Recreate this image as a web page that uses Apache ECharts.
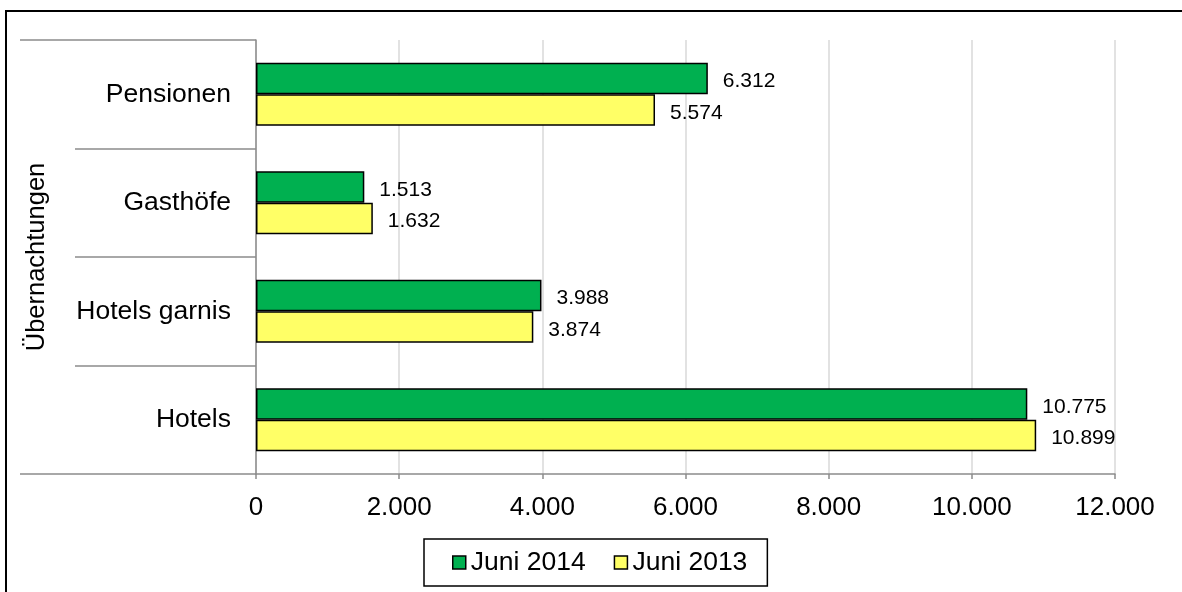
<!DOCTYPE html>
<html>
<head>
<meta charset="utf-8">
<script src="https://cdn.jsdelivr.net/npm/echarts@6/dist/echarts.min.js"></script>
<style>
  html, body { margin: 0; padding: 0; background: #fff; overflow: hidden; }
  #chart { width: 1182px; height: 592px; }
  #frame { position: absolute; left: 5px; top: 10px; width: 1300px; height: 700px;
           border-left: 2px solid #000; border-top: 2px solid #000; pointer-events: none; }
</style>
</head>
<body>
<div id="chart"></div>
<div id="frame"></div>
<script>
const categories = ['Hotels', 'Hotels garnis', 'Gasthöfe', 'Pensionen'];
const outerCategory = ['Übernachtungen'];
const seriesNames = ['Juni 2014', 'Juni 2013'];
const juni2014 = [10775, 3988, 1513, 6312];
const juni2013 = [10899, 3874, 1632, 5574];
const xTicks = [0, 2000, 4000, 6000, 8000, 10000, 12000];

const fmt = v => String(Math.round(v)).replace(/\B(?=(\d{3})+(?!\d))/g, '.');
const FONT = '"Liberation Sans", Arial, sans-serif';
const GRAY = '#8c8c8c';

const chart = echarts.init(document.getElementById('chart'), null, { renderer: 'canvas' });

function barSeries(name, data, color) {
  return {
    name: name, type: 'bar', data: data, yAxisIndex: 0,
    barCategoryGap: '42%', barGap: '0%',
    itemStyle: { color: color, borderColor: '#000', borderWidth: 1.5 },
    label: {
      show: true, position: 'right', distance: 15, offset: [0, 3],
      formatter: p => fmt(p.value),
      fontFamily: FONT, fontSize: 21, color: '#000'
    },
    emphasis: { disabled: true }
  };
}

chart.setOption({
  animation: false,
  textStyle: { fontFamily: FONT },
  grid: { left: 256, right: 67, top: 40, bottom: 118, containLabel: false },
  legend: {
    data: seriesNames,
    left: 424, top: 539,
    orient: 'horizontal',
    icon: 'rect', itemWidth: 13, itemHeight: 13, itemGap: 28,
    padding: [10, 20, 10, 28],
    borderColor: '#000', borderWidth: 1.5,
    itemStyle: { borderColor: '#000', borderWidth: 1.5 },
    textStyle: { fontFamily: FONT, fontSize: 26.5, color: '#000', padding: [2, 0, 0, 0] }
  },
  xAxis: {
    type: 'value', min: xTicks[0], max: xTicks[xTicks.length - 1], interval: 2000,
    axisLine: { show: true, lineStyle: { color: GRAY, width: 1.5 } },
    axisTick: { show: true, length: 5, lineStyle: { color: GRAY, width: 1.5 } },
    splitLine: { show: true, lineStyle: { color: '#d9d9d9', width: 1.5 } },
    axisLabel: { formatter: v => fmt(v), fontFamily: FONT, fontSize: 26, color: '#000', margin: 21 }
  },
  yAxis: [
    {
      type: 'category', data: categories, position: 'left',
      axisLine: { show: true, lineStyle: { color: GRAY, width: 1.5 } },
      axisTick: { show: true, length: 181, alignWithLabel: false, lineStyle: { color: GRAY, width: 1.5 } },
      axisLabel: { fontFamily: FONT, fontSize: 26.5, color: '#000', margin: 25, lineHeight: 30, verticalAlign: 'middle', padding: [5, 0, 0, 0] },
      splitLine: { show: false }
    },
    {
      type: 'category', data: outerCategory, position: 'left', offset: 181,
      axisLine: { show: false },
      axisTick: { show: true, length: 55, alignWithLabel: false, lineStyle: { color: GRAY, width: 1.5 } },
      axisLabel: { rotate: 90, fontFamily: FONT, fontSize: 25.5, color: '#000', margin: 25 },
      splitLine: { show: false }
    }
  ],
  series: [
    barSeries(seriesNames[0], juni2014, '#00b050'),
    barSeries(seriesNames[1], juni2013, '#ffff66')
  ]
});
</script>
</body>
</html>
